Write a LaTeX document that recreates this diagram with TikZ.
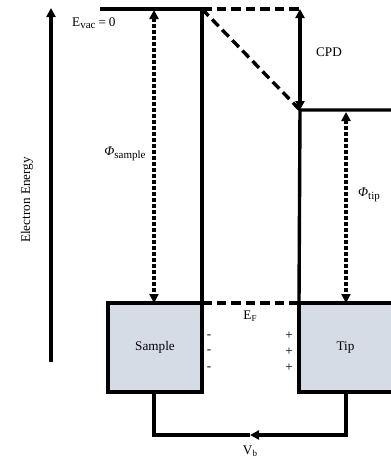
\documentclass[tikz,border=0pt]{standalone}
\usepackage{fontspec}
\setmainfont{Liberation Serif}
\usetikzlibrary{arrows.meta}
\definecolor{boxfill}{HTML}{D6DCE5}
\begin{document}
\begin{tikzpicture}[x=1pt,y=-1pt,
  thickline/.style={line width=3.4pt},
  dashline/.style={line width=3.4pt, dash pattern=on 9.5pt off 5pt},
  dotline/.style={line width=3.4pt, dash pattern=on 3.2pt off 2.8pt},
  arrowtip/.style={-{Triangle[length=9pt,width=9pt]}},
  bothtips/.style={{Triangle[length=9pt,width=9pt]}-{Triangle[length=9pt,width=9pt]}},
  box/.style={draw, line width=3.4pt, fill=boxfill, outer sep=0pt, inner sep=0pt,
    minimum height=89pt, font=\fontsize{13.2}{15}\selectfont},
  lbl/.style={font=\fontsize{13.2}{15}\selectfont, inner sep=0pt}
]
\useasboundingbox (0,0) rectangle (391,459);
% coordinates
\coordinate (axisB) at (51,362);
\coordinate (axisT) at (51,8);
\coordinate (evacL) at (100,9);
\coordinate (evacR) at (202,9);
\coordinate (dashR) at (300,9);
\coordinate (tipvacL) at (300,110);
\coordinate (tipvacR) at (396,110);
\coordinate (phisT) at (154,10);
\coordinate (phitT) at (346,112);
\coordinate (cirL) at (154,435);
\coordinate (cirM) at (250,435);
\coordinate (cirR) at (346,435);
% boxes
\node[box, minimum width=94pt] (sample) at (155,347.5) {Sample};
\node[box, minimum width=96pt] (tip) at (347,347.5) {\hspace*{-3pt}Tip};
% axis
\draw[thickline, arrowtip] (axisB) -- (axisT);
\node[lbl, rotate=90] (ee) at (27,200) {Electron Energy};
% vacuum levels
\draw[thickline] (evacL) -- (evacR) -- (sample.north east);
\draw[thickline] (tipvacR) -- (tipvacL) -- (tip.north west);
\draw[dashline] (evacR) -- (dashR);
\draw[dashline] (evacR) -- (tipvacL);
\draw[thickline, bothtips] (dashR) -- (tipvacL);
\node[lbl] (cpd) at (329,52) {CPD};
\node[lbl, anchor=west] (evac) at (72,23) {E\raisebox{-0.4ex}{\fontsize{11}{12}\selectfont vac}\hspace{3pt}=\hspace{3pt}0};
% work functions
\draw[dotline, bothtips] (phisT) -- (phisT |- sample.north);
\node[lbl] (phis) at (125,154) {{\itshape Φ}\raisebox{-0.4ex}{\fontsize{11}{12}\selectfont sample}};
\draw[dotline, bothtips] (phitT) -- (phitT |- tip.north);
\node[lbl] (phit) at (369,195) {{\itshape Φ}\raisebox{-0.4ex}{\fontsize{11}{12}\selectfont tip}};
% Fermi level
\draw[dashline] (sample.north east) -- (tip.north west);
\node[lbl] (ef) at (250,316) {E\raisebox{-0.4ex}{\fontsize{9}{10}\selectfont F}};
% charges
\node[lbl] (m1) at (209,337) {-};
\node[lbl] (m2) at (209,352) {-};
\node[lbl] (m3) at (209,369) {-};
\node[lbl] (p1) at (289,336) {+};
\node[lbl] (p2) at (289,352) {+};
\node[lbl] (p3) at (289,368) {+};
% circuit
\draw[thickline] (sample.south -| cirL) -- (cirL) -- (cirM);
\draw[thickline, arrowtip] (tip.south -| cirR) -- (cirR) -- (cirM);
\node[lbl] (vb) at (250,451) {V\raisebox{-0.4ex}{\fontsize{9}{10}\selectfont b}};
\end{tikzpicture}
\end{document}
